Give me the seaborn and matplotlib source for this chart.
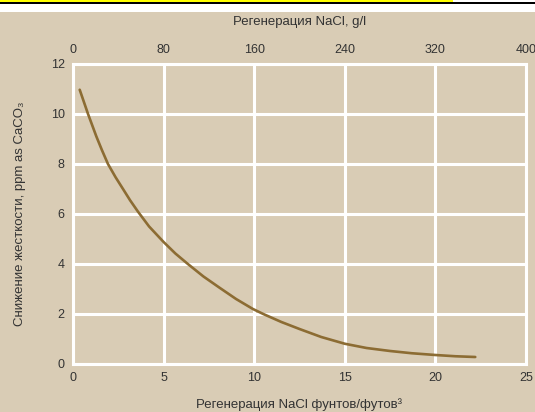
import matplotlib
matplotlib.use("Agg")
import matplotlib.pyplot as plt
import pandas as pd
import seaborn as sns
from matplotlib.patches import Rectangle

# values
regen_lb_ft3 = [0.37, 0.83, 1.29, 1.6, 1.93, 2.35, 2.76, 3.15, 3.58, 4.2, 5.0, 5.65,
                6.34, 7.2, 8.09, 9.0, 9.93, 10.5, 11.5, 12.5, 13.7, 15.0, 16.2, 17.5,
                18.7, 20.0, 21.1, 22.2]
hardness_leak = [10.97, 10.0, 9.1, 8.55, 8.0, 7.47, 7.0, 6.55, 6.1, 5.5, 4.88, 4.42,
                 4.0, 3.5, 3.05, 2.6, 2.2, 2.0, 1.68, 1.4, 1.08, 0.81, 0.64, 0.52,
                 0.43, 0.36, 0.31, 0.28]

x_ticks = [0, 5, 10, 15, 20, 25]
y_ticks = [0, 2, 4, 6, 8, 10, 12]
top_ticks = [0, 80, 160, 240, 320, 400]
G_PER_L = 16.0  # 1 lb/ft3 = 16 g/l

BEIGE = "#d9ccb5"
CURVE = "#8c6c33"
TEXT = "#333333"
TICK_FS = 9
LABEL_FS = 9.5

sns.set_theme(style="darkgrid", rc={
    "axes.facecolor": BEIGE,
    "grid.color": "white",
    "grid.linewidth": 2.2,
    "axes.edgecolor": "white",
    "axes.linewidth": 2.2,
})
plt.rcParams["font.family"] = ["Liberation Sans", "DejaVu Sans"]

df = pd.DataFrame({"regen": regen_lb_ft3, "leak": hardness_leak})

fig = plt.figure(figsize=(5.35, 4.12), dpi=100, facecolor="white")


def strip(x0, y_top, w, h, color, z):
    # rectangle given in pixels from the top-left corner
    fig.patches.append(Rectangle((x0 / 535, 1 - (y_top + h) / 412), w / 535, h / 412,
                                 transform=fig.transFigure, facecolor=color,
                                 edgecolor="none", zorder=z))


# page background, white gap and yellow/black header line
strip(0, 12, 535, 400, BEIGE, -10)
strip(0, 3.5, 535, 8.5, "white", -10)
strip(0, 0, 453, 2.5, "#ffff00", -9)
strip(0, 2.5, 535, 1.2, "black", -9)

ax = fig.add_axes([73 / 535, (412 - 364) / 412, 453 / 535, 300 / 412])
sns.lineplot(data=df, x="regen", y="leak", color=CURVE, linewidth=1.9, ax=ax)

ax.set_xlim(0, 25)
ax.set_ylim(0, 12)
ax.set_xticks(x_ticks)
ax.set_yticks(y_ticks)
ax.tick_params(length=0, labelsize=TICK_FS, labelcolor=TEXT, pad=6)
for s in ax.spines.values():
    s.set_visible(True)
    s.set_color("white")

ax.set_xlabel("Регенерация NaCl фунтов/футов³", fontsize=LABEL_FS, color=TEXT)
ax.set_ylabel("Снижение жесткости, ppm as CaCO₃", fontsize=LABEL_FS, color=TEXT)
ax.xaxis.set_label_coords(0.5, -0.115)
ax.yaxis.set_label_coords(-0.103, 0.5)

# secondary scale in g/l on top
top = ax.secondary_xaxis("top", functions=(lambda v: v * G_PER_L, lambda v: v / G_PER_L))
top.set_xticks(top_ticks)
top.tick_params(length=0, labelsize=TICK_FS, labelcolor=TEXT, pad=6)
top.spines["top"].set_visible(False)
ax.text(0.5, 1.14, "Регенерация NaCl, g/l", transform=ax.transAxes,
        ha="center", va="center", fontsize=LABEL_FS, color=TEXT)

fig.savefig("out.png", dpi=100, facecolor=fig.get_facecolor())
